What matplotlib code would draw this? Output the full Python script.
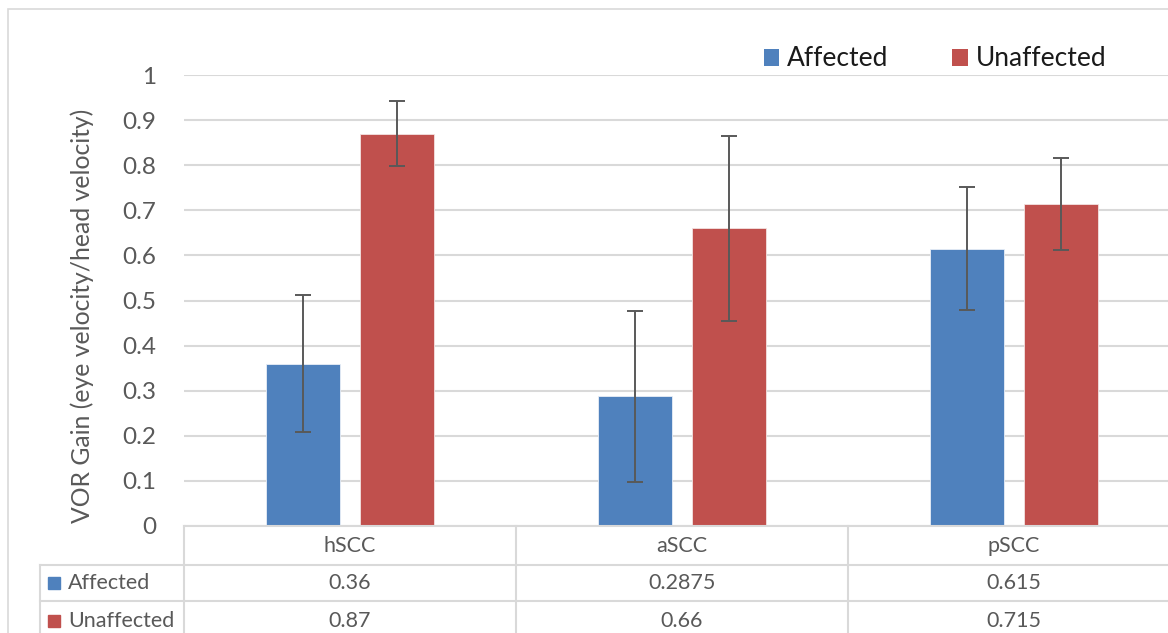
import matplotlib
matplotlib.use("Agg")
import matplotlib.pyplot as plt
import matplotlib.transforms as mtransforms
from matplotlib.lines import Line2D
from matplotlib.patches import Patch, Rectangle
import numpy as np

plt.rcParams['font.family'] = ['Lato', 'DejaVu Sans']

categories = ["hSCC", "aSCC", "pSCC"]
series_names = ["Affected", "Unaffected"]
affected = [0.36, 0.2875, 0.615]
unaffected = [0.87, 0.66, 0.715]
affected_err = [0.152, 0.19, 0.137]
unaffected_err = [0.072, 0.205, 0.102]
table_affected = ["0.36", "0.2875", "0.615"]
table_unaffected = ["0.87", "0.66", "0.715"]
yticks = [0, 0.1, 0.2, 0.3, 0.4, 0.5, 0.6, 0.7, 0.8, 0.9, 1]
ytick_labels = ["0", "0.1", "0.2", "0.3", "0.4", "0.5", "0.6", "0.7", "0.8", "0.9", "1"]

BLUE = "#4F81BD"
RED = "#C0504D"
GRID = "#D9D9D9"
TXT = "#595959"

W, H = 1168, 633
fig = plt.figure(figsize=(W / 100, H / 100), dpi=100)

def fx(x):
    return x / W

def fy(y):
    return 1 - y / H

# outer chart border
fig.add_artist(Rectangle((fx(8), fy(640)), fx(1200) - fx(8), fy(9) - fy(640),
                         transform=fig.transFigure, fill=False, ec=GRID, lw=1.2))

ax_left, ax_right, ax_top, ax_bottom = 184, 1180, 75, 526
ax = fig.add_axes([fx(ax_left), fy(ax_bottom), fx(ax_right - ax_left), fy(ax_top) - fy(ax_bottom)])

x = np.arange(len(categories))
width = 0.223
off = 0.1416
ax.bar(x - off, affected, width, color=BLUE, edgecolor="#e8eef7", linewidth=0.6, zorder=3)
ax.bar(x + off, unaffected, width, color=RED, edgecolor="#f3e2e1", linewidth=0.6, zorder=3)
ax.errorbar(x - off, affected, yerr=affected_err, fmt='none', ecolor=TXT, elinewidth=1.4,
            capsize=6, capthick=1.4, zorder=4)
ax.errorbar(x + off, unaffected, yerr=unaffected_err, fmt='none', ecolor=TXT, elinewidth=1.4,
            capsize=6, capthick=1.4, zorder=4)

ax.set_xlim(-0.5, 2.5)
ax.set_ylim(0, 1)
ax.set_yticks(yticks)
ax.set_yticklabels(ytick_labels)
ax.set_xticks([])
ax.tick_params(axis='y', length=0, pad=20, labelsize=17.5, labelcolor=TXT)
ax.grid(axis='y', color=GRID, linewidth=1.5, zorder=0)
ax.set_axisbelow(True)
for s in ["top", "right", "left"]:
    ax.spines[s].set_visible(False)
ax.spines["bottom"].set_color(GRID)
ax.spines["bottom"].set_linewidth(1.5)
ax.spines["bottom"].set_zorder(5)

fig.text(fx(82), fy(316), "VOR Gain (eye velocity/head velocity)", rotation=90,
         ha='center', va='center', fontsize=17.8, color=TXT)

# data table
def hline(x0, x1, y):
    fig.add_artist(Line2D([fx(x0), fx(x1)], [fy(y), fy(y)], transform=fig.transFigure,
                          color=GRID, lw=1.5))

def vline(xp, y0, y1):
    fig.add_artist(Line2D([fx(xp), fx(xp)], [fy(y0), fy(y1)], transform=fig.transFigure,
                          color=GRID, lw=1.5))

hline(40, 1200, 565)
hline(40, 1200, 601)
vline(40, 565, 640)
for b in np.arange(len(categories) + 1) - 0.5:
    xp = ax.transData.transform((b, 0))[0]
    vline(xp, 526, 640)

blend = mtransforms.blended_transform_factory(ax.transData, fig.transFigure)
TFS = 15.5
for i, cat in enumerate(categories):
    fig.text(i, fy(546), cat, transform=blend, ha='center', va='center', fontsize=TFS, color=TXT)
    fig.text(i, fy(583), table_affected[i], transform=blend, ha='center', va='center',
             fontsize=TFS, color=TXT)
    fig.text(i, fy(621), table_unaffected[i], transform=blend, ha='center', va='center',
             fontsize=TFS, color=TXT)

for yc, name, col in [(583, series_names[0], BLUE), (621, series_names[1], RED)]:
    fig.add_artist(Rectangle((fx(48), fy(yc + 6)), fx(12), fy(yc - 6) - fy(yc + 6),
                             transform=fig.transFigure, color=col))
    fig.text(fx(68), fy(yc), name, ha='left', va='center', fontsize=TFS, color=TXT)

# legend
handles = [Patch(facecolor=BLUE, edgecolor='none'), Patch(facecolor=RED, edgecolor='none')]
fig.legend(handles, series_names, loc='center', bbox_to_anchor=(fx(935), fy(59)), ncol=2,
           frameon=False, fontsize=19, handlelength=0.6, handleheight=0.6,
           handletextpad=0.3, columnspacing=2.4, labelcolor='#1a1a1a')

fig.savefig("out.png", dpi=100)
